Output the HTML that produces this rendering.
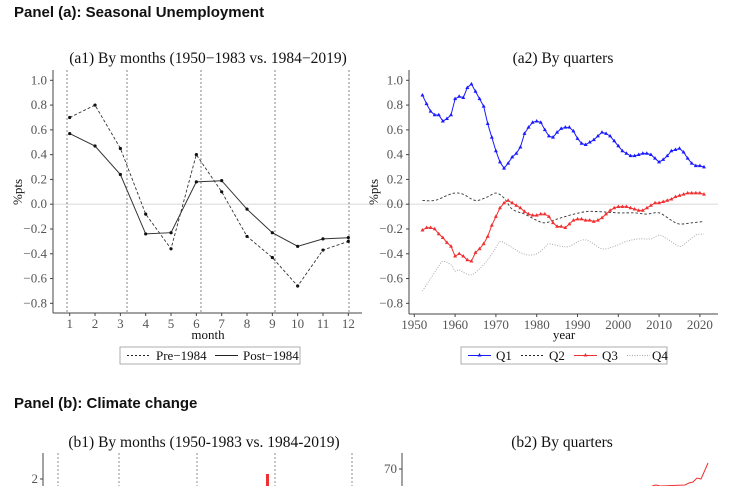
<!DOCTYPE html>
<html><head><meta charset="utf-8"><style>
body{margin:0;background:#fff;width:741px;height:486px;overflow:hidden}
svg{display:block}
.h{font-family:"Liberation Sans",sans-serif;font-weight:bold;font-size:15px;fill:#111}
.t{font-family:"Liberation Serif",serif;font-size:15.5px;fill:#111}
.k{font-family:"Liberation Serif",serif;font-size:13px;fill:#555}
.l{font-family:"Liberation Serif",serif;font-size:13px;fill:#111}
</style></head><body>
<svg id="s" width="741" height="486" xmlns="http://www.w3.org/2000/svg">
<text class="h" x="14" y="17">Panel (a): Seasonal Unemployment</text>
<text class="h" x="14" y="408">Panel (b): Climate change</text>
<text class="t" x="208" y="63" text-anchor="middle">(a1) By months (1950−1983 vs. 1984−2019)</text>
<text class="t" x="563" y="63" text-anchor="middle">(a2) By quarters</text>
<line x1="53" y1="204.2" x2="718" y2="204.2" stroke="#ddd" stroke-width="1.2"/>
<g id="a1"></g><g id="a2"></g>
<text class="l" x="208" y="339" text-anchor="middle">month</text>
<text class="l" x="564" y="339" text-anchor="middle">year</text>
<text class="l" transform="translate(22,192) rotate(-90)" text-anchor="middle">%pts</text>
<text class="l" transform="translate(378,192) rotate(-90)" text-anchor="middle">%pts</text>
<rect x="120" y="347" width="180" height="17" fill="none" stroke="#999" stroke-width="0.8"/>
<line x1="127" y1="355.5" x2="150" y2="355.5" stroke="#222" stroke-dasharray="2,2"/>
<text class="l" x="156" y="360">Pre−1984</text>
<line x1="215" y1="355.5" x2="238" y2="355.5" stroke="#222"/>
<text class="l" x="243" y="360">Post−1984</text>
<rect x="461" y="347" width="206" height="17" fill="none" stroke="#999" stroke-width="0.8"/>
<line x1="468" y1="355.5" x2="491" y2="355.5" stroke="#1a1aff"/><path d="M479.5 353 l2 3.5 h-4z" fill="#1a1aff"/>
<text class="l" x="496" y="360">Q1</text>
<line x1="521" y1="355.5" x2="544" y2="355.5" stroke="#222" stroke-dasharray="2,2"/>
<text class="l" x="549" y="360">Q2</text>
<line x1="574" y1="355.5" x2="597" y2="355.5" stroke="#f03030"/><path d="M585.5 353 l2 3.5 h-4z" fill="#f03030"/>
<text class="l" x="602" y="360">Q3</text>
<line x1="627" y1="355.5" x2="650" y2="355.5" stroke="#aaa" stroke-dasharray="1,1.5"/>
<text class="l" x="652" y="360">Q4</text>
<text class="t" x="204" y="447" text-anchor="middle">(b1) By months (1950-1983 vs. 1984-2019)</text>
<text class="t" x="562" y="447" text-anchor="middle">(b2) By quarters</text>
<line x1="43" y1="453" x2="43" y2="486" stroke="#444"/>
<text class="k" x="38" y="483" text-anchor="end">2</text>
<line x1="40" y1="479" x2="43" y2="479" stroke="#444"/>
<g stroke="#444" stroke-dasharray="2,2" stroke-width="0.6"><line x1="58" y1="453" x2="58" y2="486"/><line x1="119" y1="453" x2="119" y2="486"/><line x1="197" y1="453" x2="197" y2="486"/><line x1="275" y1="453" x2="275" y2="486"/><line x1="352" y1="453" x2="352" y2="486"/></g>
<rect x="266" y="474" width="3" height="12" fill="#f03030"/>
<line x1="402" y1="453" x2="402" y2="486" stroke="#444"/>
<line x1="399" y1="469" x2="402" y2="469" stroke="#444"/>
<text class="k" x="397" y="473" text-anchor="end">70</text>
<polyline points="652,486 656,485 660,486 685,485 689,483 693,482 697,478 701,479 705,470 708,463" fill="none" stroke="#f03030"/>
</svg>
<script>
var NS="http://www.w3.org/2000/svg",S=document.getElementById('s');
function el(t,a,p){var e=document.createElementNS(NS,t);for(var k in a)e.setAttribute(k,a[k]);(p||S).appendChild(e);return e}
function Y(v){return 204.2-v*123.9}
function txt(x,y,s,anchor){var e=el('text',{x:x,y:y,'class':'k','text-anchor':anchor||'end'});e.textContent=s}
var g1=document.getElementById('a1');
el('line',{x1:53,y1:70,x2:53,y2:313,stroke:'#444'},g1);
el('line',{x1:53,y1:313,x2:362,y2:313,stroke:'#444'},g1);
el('line',{x1:409,y1:70,x2:409,y2:314,stroke:'#444'},g1);
el('line',{x1:409,y1:314,x2:718,y2:314,stroke:'#444'},g1);
var labs=['1.0','0.8','0.6','0.4','0.2','0.0','−0.2','−0.4','−0.6','−0.8'];
for(var i=0;i<10;i++){var v=1-0.2*i,y=Y(v);
 el('line',{x1:50,y1:y,x2:53,y2:y,stroke:'#444'});txt(47,y+4,labs[i]);
 el('line',{x1:406,y1:y,x2:409,y2:y,stroke:'#444'});txt(403,y+4,labs[i]);}
function MX(m){return 69.7+(m-1)*25.33}
for(var m=1;m<=12;m++){el('line',{x1:MX(m),y1:313,x2:MX(m),y2:316,stroke:'#444'});txt(MX(m),328,''+m,'middle')}
[67,127,201,275,349].forEach(function(x){el('line',{x1:x,y1:70,x2:x,y2:313,stroke:'#333','stroke-dasharray':'2,2','stroke-width':0.6})});
var pre=[0.70,0.80,0.45,-0.08,-0.36,0.40,0.10,-0.26,-0.43,-0.66,-0.37,-0.30];
var post=[0.57,0.47,0.24,-0.24,-0.23,0.18,0.19,-0.04,-0.23,-0.34,-0.28,-0.27];
function poly(pts,st){el('polyline',Object.assign({points:pts.map(function(p){return p[0].toFixed(1)+','+p[1].toFixed(1)}).join(' '),fill:'none'},st))}
var pp=pre.map(function(v,i){return[MX(i+1),Y(v)]}),qp=post.map(function(v,i){return[MX(i+1),Y(v)]});
poly(pp,{stroke:'#333','stroke-dasharray':'3,2','stroke-width':0.9});poly(qp,{stroke:'#333','stroke-width':1});
pp.concat(qp).forEach(function(p){el('circle',{cx:p[0],cy:p[1],r:1.6,fill:'#111'})});
function YX(yr){return 414.3+(yr-1950)*4.08}
for(var yr=1950;yr<=2020;yr+=10){el('line',{x1:YX(yr),y1:314,x2:YX(yr),y2:317,stroke:'#444'});txt(YX(yr),329,''+yr,'middle')}
var q1=[.88,.81,.75,.72,.72,.67,.69,.72,.85,.87,.86,.94,.97,.91,.85,.79,.65,.54,.43,.34,.29,.33,.38,.41,.46,.57,.62,.66,.67,.66,.60,.55,.54,.58,.61,.62,.62,.59,.53,.49,.48,.50,.52,.55,.58,.57,.55,.51,.47,.43,.41,.39,.39,.40,.41,.41,.40,.37,.34,.36,.39,.43,.44,.45,.42,.37,.33,.31,.31,.30];
var q3=[-.21,-.19,-.19,-.20,-.24,-.27,-.31,-.34,-.42,-.40,-.42,-.45,-.46,-.39,-.36,-.32,-.26,-.17,-.10,-.03,.01,.03,.01,-.01,-.03,-.06,-.08,-.09,-.09,-.08,-.08,-.10,-.15,-.18,-.18,-.19,-.16,-.13,-.12,-.12,-.13,-.13,-.14,-.13,-.11,-.08,-.05,-.03,-.02,-.02,-.02,-.03,-.04,-.05,-.05,-.03,-.01,.01,.01,.02,.03,.04,.06,.07,.08,.09,.09,.09,.09,.08];
function sm(arr){var p=arr.map(function(a){return[YX(a[0]),Y(a[1])]});var d='M'+p[0][0]+','+p[0][1];
 for(var i=0;i<p.length-1;i++){var p0=p[i-1]||p[i],p1=p[i],p2=p[i+1],p3=p[i+2]||p2;
 d+=' C'+(p1[0]+(p2[0]-p0[0])/6)+','+(p1[1]+(p2[1]-p0[1])/6)+' '+(p2[0]-(p3[0]-p1[0])/6)+','+(p2[1]-(p3[1]-p1[1])/6)+' '+p2[0]+','+p2[1]}return d}
var q2=[[1952,.03],[1955,.03],[1958,.07],[1960,.09],[1962,.08],[1965,.03],[1968,.06],[1970,.09],[1972,.05],[1974,-.04],[1977,-.08],[1980,-.13],[1982,-.15],[1985,-.12],[1988,-.09],[1992,-.06],[1995,-.06],[2000,-.07],[2004,-.07],[2007,-.08],[2010,-.07],[2013,-.13],[2015,-.16],[2018,-.15],[2021,-.14]];
var q4=[[1952,-.70],[1954,-.60],[1956,-.50],[1957,-.46],[1959,-.49],[1960,-.54],[1961,-.53],[1962,-.55],[1964,-.57],[1966,-.52],[1968,-.45],[1970,-.35],[1971,-.30],[1973,-.33],[1976,-.39],[1978,-.41],[1980,-.40],[1982,-.35],[1983,-.32],[1986,-.34],[1988,-.34],[1991,-.29],[1993,-.30],[1996,-.36],[1999,-.34],[2002,-.30],[2005,-.28],[2008,-.28],[2010,-.25],[2012,-.28],[2015,-.34],[2017,-.30],[2019,-.25],[2021,-.24]];
el('path',{d:sm(q4),fill:'none',stroke:'#aaa','stroke-dasharray':'1,1.5','stroke-width':1});
el('path',{d:sm(q2),fill:'none',stroke:'#333','stroke-dasharray':'2.5,2','stroke-width':0.9});
function series(arr,c){var p=arr.map(function(v,i){return[YX(1952+i),Y(v)]});poly(p,{stroke:c,'stroke-width':1});
 p.forEach(function(q){el('path',{d:'M'+q[0]+' '+(q[1]-2.2)+' l2 3.5 h-4z',fill:c})})}
series(q3,'#f03030');series(q1,'#1a1aff');
</script>
</body></html>
